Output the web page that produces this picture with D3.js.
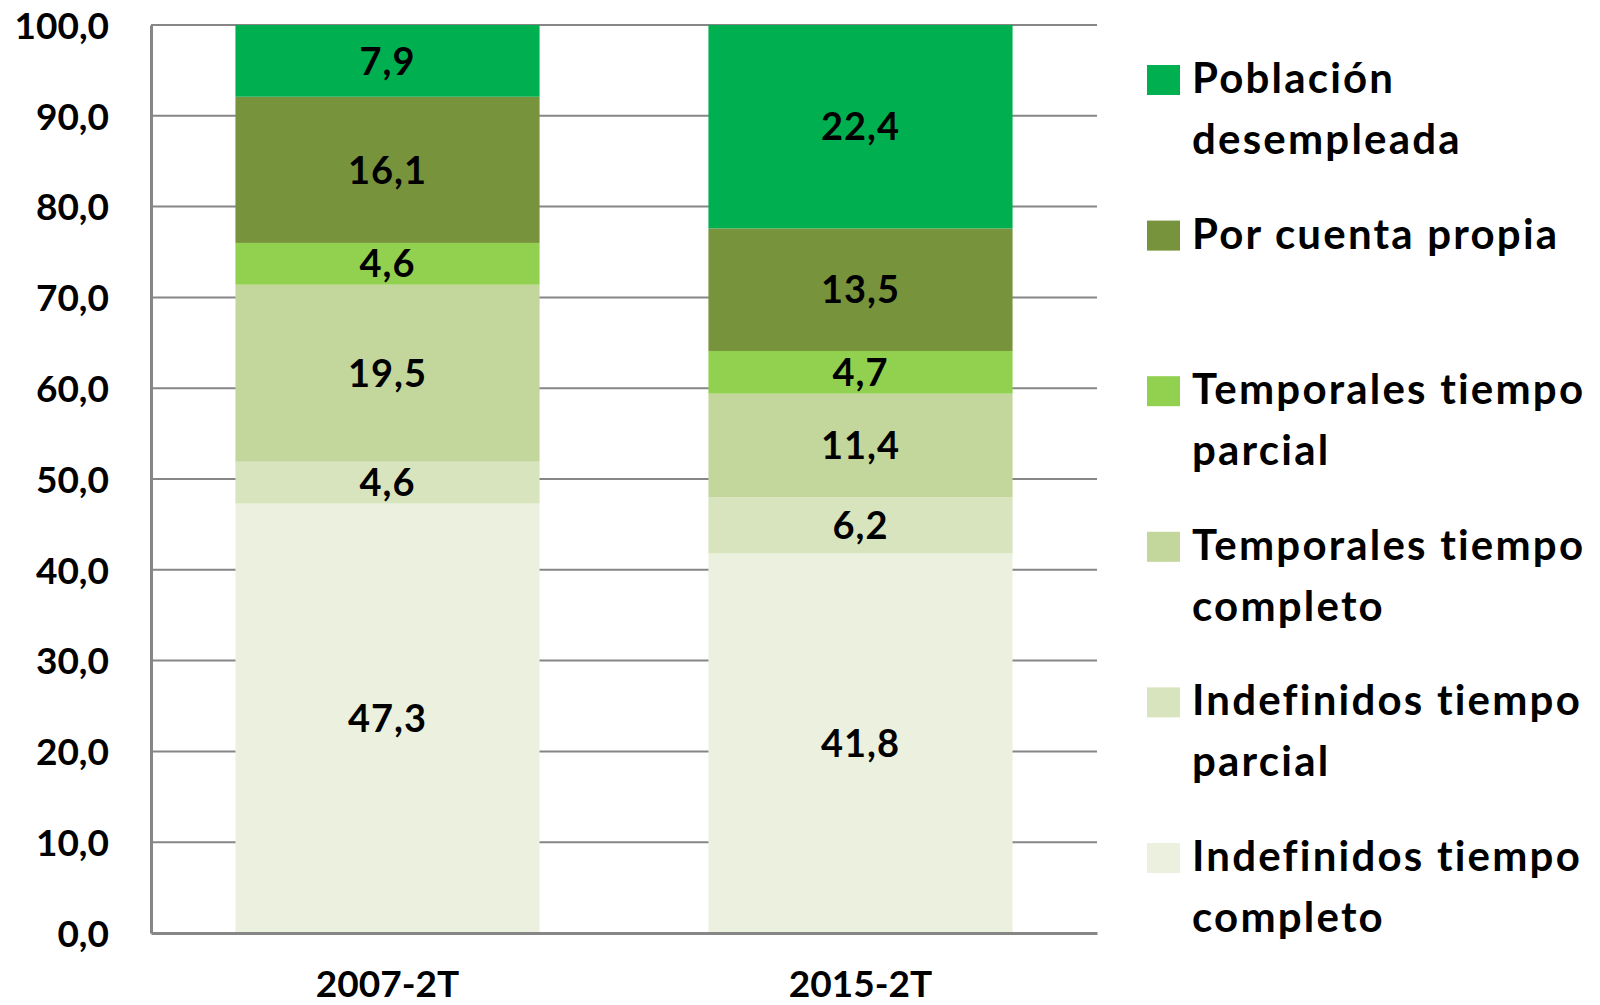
<!DOCTYPE html>
<meta charset="utf-8">
<style>
  body { margin: 0; background: #fff; }
  text { font-family: Lato, "Open Sans", sans-serif; font-weight: bold; fill: #000; }
</style>
<body>
  <div id="chart"></div>
  <script src="https://d3js.org/d3.v7.min.js"></script>
  <script>
    // categories (x axis)
    var periods = ["2007-2T", "2015-2T"];

    // series, bottom to top of the stack
    var seriesNames = [
      "Indefinidos tiempo completo",
      "Indefinidos tiempo parcial",
      "Temporales tiempo completo",
      "Temporales tiempo parcial",
      "Por cuenta propia",
      "Población desempleada"
    ];
    var seriesColors = ["#EBF1DE", "#D7E4BD", "#C3D69B", "#92D050", "#77933C", "#00B050"];

    // values per series, one per period
    var indefCompleto = [47.3, 41.8];
    var indefParcial = [4.6, 6.2];
    var tempCompleto = [19.5, 11.4];
    var tempParcial = [4.6, 4.7];
    var cuentaPropia = [16.1, 13.5];
    var desempleada = [7.9, 22.4];

    var yTicks = [0, 10, 20, 30, 40, 50, 60, 70, 80, 90, 100];

    // legend order (top to bottom) with line breaks
    var legendLines = [
      ["Población", "desempleada"],
      ["Por cuenta propia"],
      ["Temporales tiempo", "parcial"],
      ["Temporales tiempo", "completo"],
      ["Indefinidos tiempo", "parcial"],
      ["Indefinidos tiempo", "completo"]
    ];

    var seriesValues = [indefCompleto, indefParcial, tempCompleto, tempParcial, cuentaPropia, desempleada];

    var rows = periods.map(function(p, i) {
      var r = { period: p };
      seriesNames.forEach(function(s, j) { r[s] = seriesValues[j][i]; });
      return r;
    });

    var margin = { top: 25, right: 503, bottom: 72, left: 151 },
      width = 1600 - margin.left - margin.right,
      height = 1005 - margin.top - margin.bottom;

    var fmt = function(v) { return d3.format(".1f")(v).replace(".", ","); };

    var svg = d3.select("#chart")
      .append("svg")
      .attr("width", 1600)
      .attr("height", 1005)
      .append("g")
      .attr("transform", "translate(" + margin.left + "," + margin.top + ")");

    var x = d3.scaleBand()
      .domain(periods)
      .range([0, width])
      .paddingInner(0.357)
      .paddingOuter(0.1785);

    var y = d3.scaleLinear()
      .domain([0, 100])
      .range([height, 0]);

    var color = d3.scaleOrdinal().domain(seriesNames).range(seriesColors);

    // gridlines
    svg.append("g")
      .selectAll("line")
      .data(yTicks.slice(1))
      .enter().append("line")
      .attr("x1", 0)
      .attr("x2", width)
      .attr("y1", function(d) { return y(d); })
      .attr("y2", function(d) { return y(d); })
      .style("stroke", "#868686")
      .style("stroke-width", 2);

    var stack = d3.stack().keys(seriesNames);
    var layers = stack(rows);

    var layer = svg.selectAll(".layer")
      .data(layers)
      .enter().append("g")
      .attr("class", "layer")
      .style("fill", function(d) { return color(d.key); });

    layer.selectAll("rect")
      .data(function(d) { return d; })
      .enter().append("rect")
      .attr("x", function(d) { return x(d.data.period); })
      .attr("y", function(d) { return y(d[1]); })
      .attr("height", function(d) { return y(d[0]) - y(d[1]); })
      .attr("width", x.bandwidth());

    layer.selectAll("text")
      .data(function(d) { return d; })
      .enter().append("text")
      .attr("x", function(d) { return x(d.data.period) + x.bandwidth() / 2; })
      .attr("y", function(d) { return y((d[0] + d[1]) / 2); })
      .attr("dy", "0.36em")
      .attr("text-anchor", "middle")
      .style("font-size", "38px")
      .style("letter-spacing", "1px")
      .text(function(d) { return fmt(d[1] - d[0]); });

    // Y axis
    var yAxis = svg.append("g")
      .call(d3.axisLeft(y).tickValues(yTicks).tickFormat(fmt).tickSize(0).tickPadding(42));
    yAxis.select(".domain").style("stroke", "#868686").style("stroke-width", 3);
    yAxis.selectAll("text").style("font-size", "37px").attr("dy", "0.36em");

    // X axis
    var xAxis = svg.append("g")
      .attr("transform", "translate(0," + height + ")")
      .call(d3.axisBottom(x).tickSize(0).tickPadding(0));
    xAxis.select(".domain").style("stroke", "#868686").style("stroke-width", 3);
    xAxis.selectAll("text").style("font-size", "37px").attr("dy", null).attr("y", 64);

    // legend
    var legend = d3.select("svg").append("g")
      .attr("transform", "translate(1147,65)");

    var item = legend.selectAll(".item")
      .data(legendLines)
      .enter().append("g")
      .attr("class", "item")
      .attr("transform", function(d, i) { return "translate(0," + (i * 155.6) + ")"; });

    item.append("rect")
      .attr("width", 33)
      .attr("height", 30)
      .style("fill", function(d, i) { return seriesColors[seriesColors.length - 1 - i]; });

    item.selectAll("text")
      .data(function(d) { return d; })
      .enter().append("text")
      .attr("x", 45)
      .attr("y", function(d, j) { return 28 + j * 61; })
      .style("font-size", "42px")
      .style("letter-spacing", "2.2px")
      .text(function(d) { return d; });
  </script>
</body>
